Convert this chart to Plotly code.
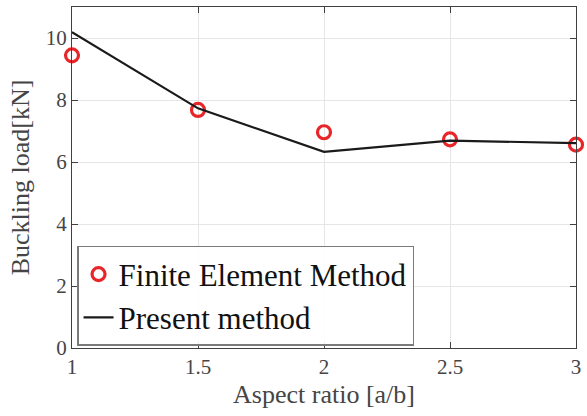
import plotly.graph_objects as go

# Buckling load versus plate aspect ratio
aspect_ratio = [1, 1.5, 2, 2.5, 3]
fem_load = [9.44, 7.68, 6.96, 6.73, 6.56]
present_load = [10.19, 7.73, 6.33, 6.69, 6.61]

x_ticks = [1, 1.5, 2, 2.5, 3]
x_tick_text = ["1", "1.5", "2", "2.5", "3"]
y_ticks = [0, 2, 4, 6, 8, 10]

serif = "Liberation Serif"

fig = go.Figure()
fig.add_trace(go.Scatter(
    x=aspect_ratio, y=fem_load, mode="markers", name="Finite Element Method",
    marker=dict(symbol="circle-open", size=13, color="#e8262a",
                line=dict(width=3.2, color="#e8262a")),
    cliponaxis=False,
))
fig.add_trace(go.Scatter(
    x=aspect_ratio, y=present_load, mode="lines", name="Present method",
    line=dict(color="#1a1a1a", width=2.2),
))

axis_common = dict(
    showline=True, linecolor="#404040", linewidth=1.2, mirror="ticks",
    ticks="inside", ticklen=6, tickcolor="#404040",
    showgrid=True, gridcolor="#e6e6e6", gridwidth=1,
    zeroline=False,
    tickfont=dict(family=serif, size=21, color="#454545"),
    title_font=dict(family=serif, size=26, color="#454545"),
)

fig.update_layout(
    width=587, height=416,
    margin=dict(l=72, r=9, t=6, b=68),
    paper_bgcolor="white", plot_bgcolor="white",
    font=dict(family=serif),
    xaxis=dict(range=[1, 3], tickvals=x_ticks, ticktext=x_tick_text,
               title=dict(text="Aspect ratio [a/b]", standoff=6), **axis_common),
    yaxis=dict(range=[0, 11], tickvals=y_ticks,
               title=dict(text="Buckling load[kN]", standoff=8), **axis_common),
    legend=dict(
        x=0.01, y=0.006, xanchor="left", yanchor="bottom",
        bgcolor="rgba(255,255,255,0.9)", bordercolor="#7a7a7a", borderwidth=1.5,
        font=dict(family=serif, size=31, color="#111111"),
        itemwidth=30, tracegroupgap=0,
    ),
)

fig.write_html("out.html")
